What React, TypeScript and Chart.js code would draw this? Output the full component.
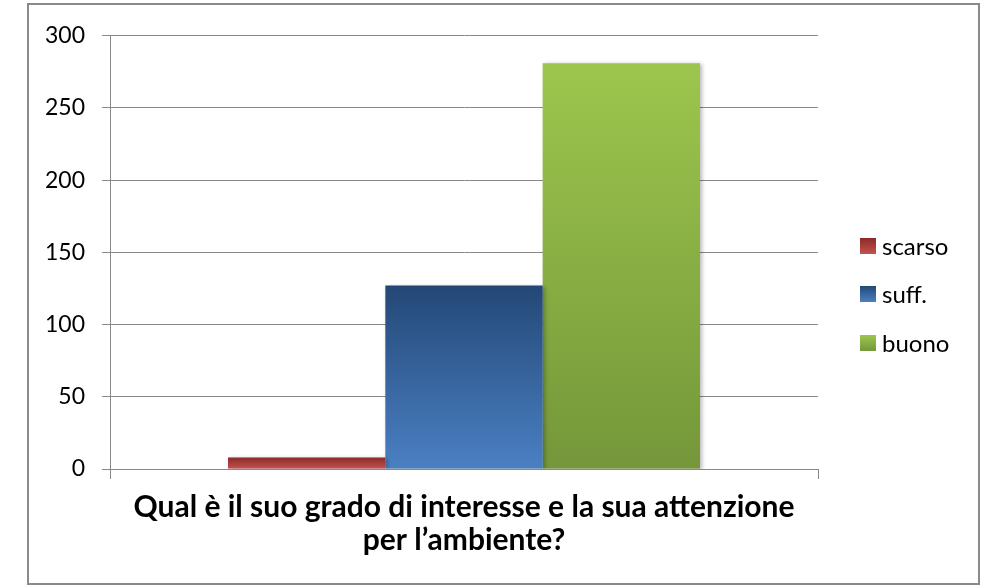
import React, { useEffect, useRef } from 'react';
import { Chart, registerables } from 'chart.js';

Chart.register(...registerables);

const categories = [['Qual è il suo grado di interesse e la sua attenzione', 'per l’ambiente?']];
const seriesNames = ['scarso', 'suff.', 'buono'];
const scarsoValues = [8];
const suffValues = [127];
const buonoValues = [281];
const yTickValues = [0, 50, 100, 150, 200, 250, 300];

const gradientColors: [string, string][] = [
  ['#8a2b2a', '#c5514f'],
  ['#244876', '#4a80c4'],
  ['#9cc64d', '#75973a'],
];

const FONT = 'Lato, "Open Sans", sans-serif';

function barGradient(i: number) {
  return (c: any) => {
    const chart = c.chart;
    const y = chart.scales && chart.scales.y;
    if (!y || !chart.chartArea || c.raw == null) return gradientColors[i][1];
    const top = y.getPixelForValue(c.raw);
    const bot = y.getPixelForValue(0);
    if (!isFinite(top) || !isFinite(bot) || top === bot) return gradientColors[i][1];
    const g = chart.ctx.createLinearGradient(0, top, 0, bot);
    g.addColorStop(0, gradientColors[i][0]);
    g.addColorStop(1, gradientColors[i][1]);
    return g;
  };
}

const shadowPlugin = {
  id: 'barShadow',
  beforeDatasetsDraw(chart: any) {
    const ctx = chart.ctx;
    ctx.save();
    ctx.shadowColor = 'rgba(0,0,0,0.28)';
    ctx.shadowBlur = 4;
    ctx.shadowOffsetX = 2;
    ctx.shadowOffsetY = 1;
  },
  afterDatasetsDraw(chart: any) {
    chart.ctx.restore();
  },
};

const sideLegendPlugin = {
  id: 'sideLegend',
  afterDraw(chart: any) {
    const { ctx, chartArea } = chart;
    const datasets = chart.data.datasets;
    const n = datasets.length;
    const spacing = 48.5;
    const box = 16;
    const x = chartArea.right + 42;
    const cy = chart.height / 2;
    ctx.save();
    ctx.font = `24px ${FONT}`;
    ctx.textBaseline = 'middle';
    ctx.textAlign = 'left';
    datasets.forEach((ds: any, i: number) => {
      const top = Math.round(cy + (i - (n - 1) / 2) * spacing - box / 2);
      const g = ctx.createLinearGradient(0, top, 0, top + box);
      g.addColorStop(0, gradientColors[i][0]);
      g.addColorStop(1, gradientColors[i][1]);
      ctx.fillStyle = g;
      ctx.fillRect(x, top, box, box);
      ctx.fillStyle = '#000';
      ctx.fillText(ds.label, x + box + 6, top + box / 2 + 1);
    });
    ctx.restore();
  },
};

export default function App() {
  const canvasRef = useRef<HTMLCanvasElement | null>(null);

  useEffect(() => {
    const canvas = canvasRef.current;
    if (!canvas) return;
    const valueSets = [scarsoValues, suffValues, buonoValues];
    const chart = new Chart(canvas, {
      type: 'bar',
      data: {
        labels: categories as any,
        datasets: seriesNames.map((name, i) => ({
          label: name,
          data: valueSets[i],
          backgroundColor: barGradient(i),
          borderWidth: 0,
          categoryPercentage: 2 / 3,
          barPercentage: 1,
        })),
      },
      options: {
        responsive: false,
        animation: false,
        devicePixelRatio: 1,
        layout: { padding: { top: 29, right: 160, bottom: 0, left: 0 } },
        plugins: {
          legend: { display: false },
          tooltip: { enabled: false },
          title: { display: false },
        },
        scales: {
          x: {
            grid: {
              display: true,
              drawOnChartArea: false,
              drawTicks: true,
              tickLength: 10,
              color: '#888888',
              lineWidth: 1,
              offset: true,
            },
            border: { display: true, color: '#888888', width: 1 },
            ticks: {
              color: '#000',
              font: { family: FONT, size: 30, weight: 'bold', lineHeight: 1.1 },
              padding: 12,
              maxRotation: 0,
              autoSkip: false,
            },
            afterFit: (s: any) => {
              s.height = 114;
            },
          },
          y: {
            min: 0,
            max: 300,
            afterBuildTicks: (s: any) => {
              s.ticks = yTickValues.map((v) => ({ value: v }));
            },
            grid: {
              color: '#888888',
              lineWidth: 1,
              drawTicks: true,
              tickLength: 8,
            },
            border: { display: true, color: '#888888', width: 1 },
            ticks: {
              color: '#000',
              font: { family: FONT, size: 23 },
              padding: 17,
            },
            afterFit: (s: any) => {
              s.width = 81;
            },
          },
        },
      },
      plugins: [shadowPlugin, sideLegendPlugin],
    });
    return () => chart.destroy();
  }, []);

  return (
    <div
      style={{
        position: 'absolute',
        left: 27,
        top: 3,
        width: 953,
        height: 582,
        boxSizing: 'border-box',
        border: '2px solid #8a8a8a',
        background: '#fff',
      }}
    >
      <canvas ref={canvasRef} width={949} height={578} style={{ display: 'block', width: 949, height: 578 }} />
    </div>
  );
}
